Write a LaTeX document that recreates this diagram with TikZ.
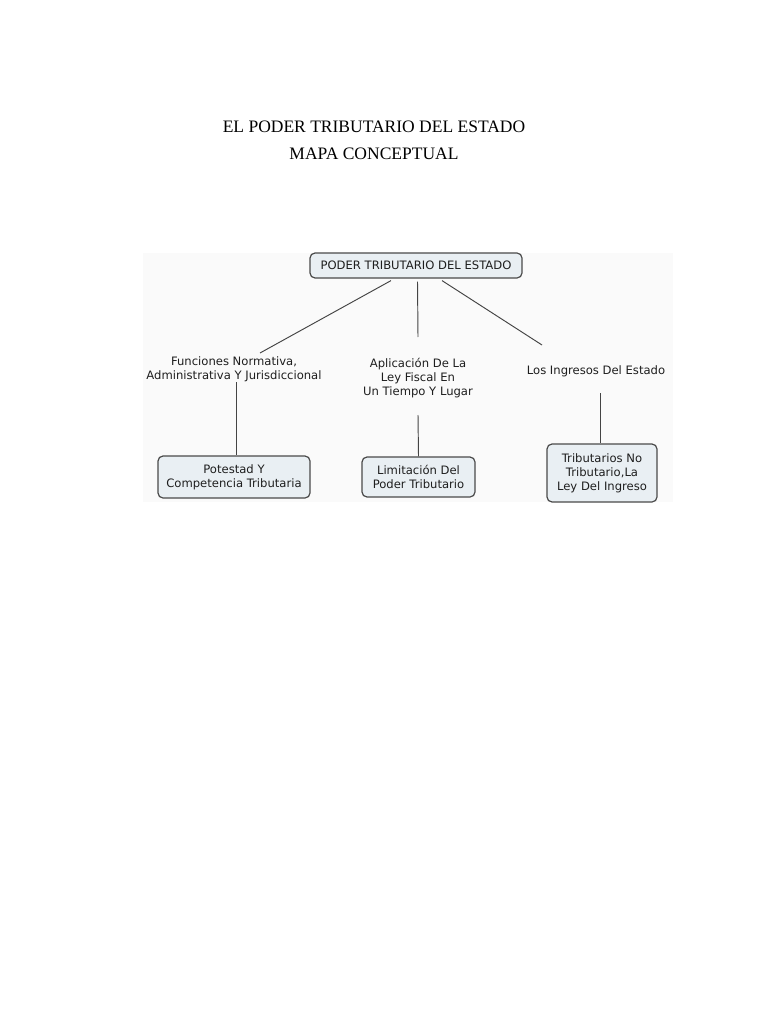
\documentclass[tikz,border=0pt]{standalone}
\usepackage{fontspec}
\setmainfont{Liberation Serif}
\newfontfamily\dejavu{DejaVu Sans}
\definecolor{boxfill}{HTML}{E9EFF3}
\definecolor{boxline}{HTML}{4A4A4A}
\definecolor{conncol}{HTML}{444444}
\definecolor{txtcol}{HTML}{1E1E1E}
\definecolor{panel}{HTML}{FAFAFA}
\begin{document}
\begin{tikzpicture}[x=1pt,y=-1pt,
  titletext/.style={anchor=base,inner sep=0pt,font=\fontsize{17.5}{26.5}\selectfont,text=black},
  concept/.style={draw=boxline,fill=boxfill,line width=1.2pt,rounded corners=5pt,
    align=center,inner sep=0pt,text=txtcol,font=\dejavu\fontsize{11.6}{14}\selectfont},
  linklabel/.style={align=center,inner sep=0pt,text=txtcol,font=\dejavu\fontsize{11.6}{14}\selectfont},
  conn/.style={draw=conncol,line width=0.95pt}]
\useasboundingbox (0,0) rectangle (768,1024);
\fill[white] (0,0) rectangle (768,1024);
\fill[panel] (143,253) rectangle (673,502);
% title
\node[titletext] (title1) at (374,133) {EL PODER TRIBUTARIO DEL ESTADO};
\node[titletext] (title2) at (374,159.5) {MAPA CONCEPTUAL};
% concepts
\node[concept,minimum width=212pt,minimum height=25pt] (main) at (416,265.5) {PODER TRIBUTARIO DEL ESTADO};
\node[linklabel] (lab1) at (234,369.5) {Funciones Normativa,\\Administrativa Y Jurisdiccional};
\node[linklabel] (lab2) at (418,378.5) {Aplicación De La\\Ley Fiscal En\\Un Tiempo Y Lugar};
\node[linklabel] (lab3) at (596,371) {Los Ingresos Del Estado};
\node[concept,minimum width=152pt,minimum height=42pt] (box1) at (234,477) {Potestad Y\\Competencia Tributaria};
\node[concept,minimum width=113pt,minimum height=40pt] (box2) at (418.5,477) {Limitación Del\\Poder Tributario};
\node[concept,minimum width=110pt,minimum height=58pt] (box3) at (602,473) {Tributarios No\\Tributario,La\\Ley Del Ingreso};
% connectors
\draw[conn] ([xshift=-25pt,yshift=-2pt]main.south) -- ([xshift=26pt,yshift=16.5pt]lab1.center);
\draw[conn] ([xshift=1.5pt,yshift=-3pt]main.south) -- ([yshift=41.5pt]lab2.center);
\draw[conn] ([xshift=26pt,yshift=-2pt]main.south) -- ([xshift=-54pt,yshift=26pt]lab3.center);
\draw[conn] ([xshift=2pt,yshift=-12.5pt]lab1.center) -- ([xshift=2pt]box1.north);
\draw[conn] ([yshift=-36.5pt]lab2.center) -- (box2.north);
\draw[conn] ([xshift=4pt,yshift=-22pt]lab3.center) -- ([xshift=-2pt]box3.north);
\end{tikzpicture}
\end{document}
